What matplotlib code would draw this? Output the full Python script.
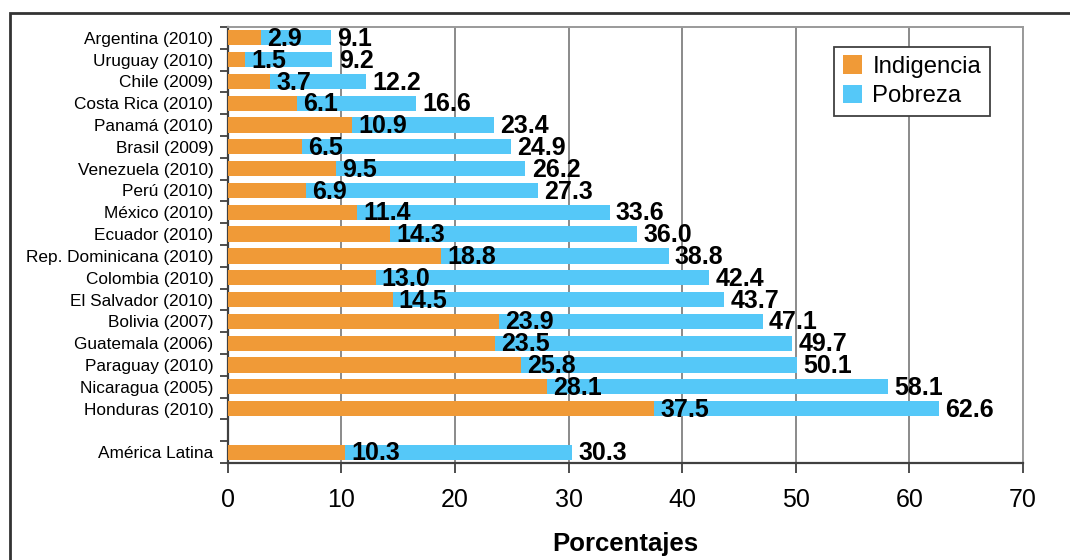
import matplotlib
matplotlib.use("Agg")
import matplotlib.pyplot as plt
from matplotlib.patches import Rectangle
from matplotlib.ticker import FixedLocator

plt.rcParams['font.family'] = ['Liberation Sans', 'DejaVu Sans']

paises = ['Argentina (2010)', 'Uruguay (2010)', 'Chile (2009)', 'Costa Rica (2010)',
          'Panamá (2010)', 'Brasil (2009)', 'Venezuela (2010)', 'Perú (2010)',
          'México (2010)', 'Ecuador (2010)', 'Rep. Dominicana (2010)', 'Colombia (2010)',
          'El Salvador (2010)', 'Bolivia (2007)', 'Guatemala (2006)', 'Paraguay (2010)',
          'Nicaragua (2005)', 'Honduras (2010)', '', 'América Latina']
indigencia = [2.9, 1.5, 3.7, 6.1, 10.9, 6.5, 9.5, 6.9, 11.4, 14.3, 18.8, 13.0,
              14.5, 23.9, 23.5, 25.8, 28.1, 37.5, None, 10.3]
pobreza = [9.1, 9.2, 12.2, 16.6, 23.4, 24.9, 26.2, 27.3, 33.6, 36.0, 38.8, 42.4,
           43.7, 47.1, 49.7, 50.1, 58.1, 62.6, None, 30.3]

naranja = '#F09A37'
celeste = '#55C8F8'

fig = plt.figure(figsize=(10.7, 5.6), dpi=100)
ax = fig.add_axes([0.213, 0.173, 0.743, 0.779])

pos = [i for i, v in enumerate(pobreza) if v is not None]
pob = [pobreza[i] for i in pos]
ind = [indigencia[i] for i in pos]

ax.barh(pos, pob, height=0.7, color=celeste, label='Pobreza', zorder=3)
ax.barh(pos, ind, height=0.7, color=naranja, label='Indigencia', zorder=3)

for y, a, b in zip(pos, ind, pob):
    ax.text(a + 0.55, y + 0.05, f'{a:.1f}', ha='left', va='center', fontsize=18,
            fontweight='bold', zorder=4)
    ax.text(b + 0.55, y + 0.05, f'{b:.1f}', ha='left', va='center', fontsize=18,
            fontweight='bold', zorder=4)

ax.set_xlim(0, 70)
ax.set_ylim(len(paises) - 0.5, -0.5)
ax.set_xticks(range(0, 71, 10))
ax.tick_params(axis='x', labelsize=18, length=7, width=1.3, color='#404040', pad=11)

ax.set_yticks(range(len(paises)))
ax.set_yticklabels(paises, fontsize=12.4)
ax.yaxis.set_minor_locator(FixedLocator([i - 0.5 for i in range(len(paises) + 1)]))
ax.tick_params(axis='y', which='major', length=0, pad=10.5)
ax.tick_params(axis='y', which='minor', length=6, width=1.3, color='#404040')

ax.grid(axis='x', color='#8a8a8a', linewidth=1.4, zorder=0)
for lado in ['left', 'bottom']:
    ax.spines[lado].set_color('#404040')
    ax.spines[lado].set_linewidth(1.6)
for lado in ['top', 'right']:
    ax.spines[lado].set_color('#9a9a9a')
    ax.spines[lado].set_linewidth(1.4)

ax.set_xlabel('Porcentajes', fontsize=18.5, fontweight='bold', labelpad=14)

handles, labels = ax.get_legend_handles_labels()
leg = ax.legend(handles[::-1], labels[::-1], loc='upper right', bbox_to_anchor=(0.958, 0.954),
                borderaxespad=0, fontsize=17.2, fancybox=False, framealpha=1,
                edgecolor='#404040', handlelength=0.8, handleheight=0.8,
                handletextpad=0.45, borderpad=0.35, labelspacing=0.3)
leg.get_frame().set_linewidth(1.3)

# marco exterior del gráfico
fig.patches.append(Rectangle((10 / 1070, -0.2), 1.2, 1 - 13 / 560 + 0.2,
                             transform=fig.transFigure, fill=False,
                             edgecolor='#333333', linewidth=2))

fig.savefig('out.png', dpi=100)
